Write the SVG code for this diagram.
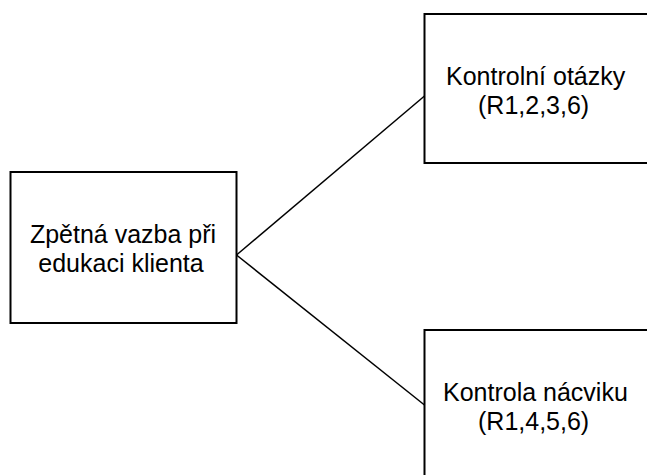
<svg xmlns="http://www.w3.org/2000/svg" width="647" height="475" viewBox="0 0 647 475">
  <style>
    .box { fill: #ffffff; stroke: #000000; stroke-width: 2; }
    .label { font-family: "Liberation Sans", Arial, sans-serif; font-size: 25px; fill: #000000; }
    .link { fill: none; stroke: #000000; stroke-width: 1.5; }
  </style>
  <rect width="647" height="475" fill="#ffffff"/>

  <!-- connectors from the root node to both branches -->
  <g id="connectors">
    <line class="link" x1="236.5" y1="255" x2="424.5" y2="96"/>
    <line class="link" x1="236.5" y1="255" x2="424.5" y2="405"/>
  </g>

  <g id="node-root">
    <rect class="box" x="10.5" y="172" width="226" height="151"/>
    <text class="label" x="123" y="243" text-anchor="middle">Zpětná vazba při</text>
    <text class="label" x="121" y="272" text-anchor="middle">edukaci klienta</text>
  </g>

  <g id="node-questions">
    <rect class="box" x="424.5" y="14" width="230" height="149"/>
    <text class="label" x="446" y="85">Kontrolní otázky</text>
    <text class="label" x="478" y="114">(R1,2,3,6)</text>
  </g>

  <g id="node-practice">
    <rect class="box" x="424.5" y="330" width="230" height="160"/>
    <text class="label" x="443" y="401">Kontrola nácviku</text>
    <text class="label" x="478" y="430">(R1,4,5,6)</text>
  </g>
</svg>
